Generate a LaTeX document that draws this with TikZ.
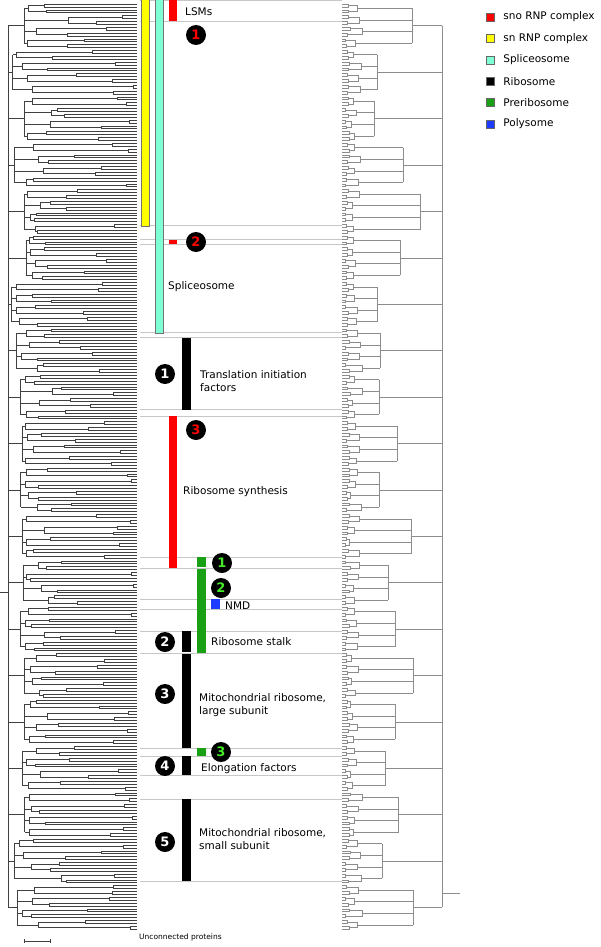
\documentclass[tikz,border=0pt]{standalone}
\usepackage{fontspec}
\setmainfont{DejaVu Sans}
\usepackage{tikz}
\usetikzlibrary{positioning}
\definecolor{snored}{RGB}{255,0,0}
\definecolor{snyellow}{RGB}{255,255,0}
\definecolor{spliceo}{RGB}{127,255,212}
\definecolor{pregreen}{RGB}{25,160,20}
\definecolor{polyblue}{RGB}{30,60,255}
\definecolor{digitgreen}{RGB}{70,235,40}

\begin{document}
\begin{tikzpicture}[
  x=1pt, y=-1pt,
  every node/.style={font=\fontsize{10.5}{12.5}\selectfont},
  ltree/.style={draw=black!75, line width=0.5pt},
  rtree/.style={draw=black!45, line width=0.5pt},
  sep/.style={draw=black!22, line width=0.6pt},
  bar/.style={draw=black!55, line width=0.4pt},
  tag/.style={anchor=west, align=left, inner sep=0pt},
  num/.style={circle, fill=black, minimum size=20pt, inner sep=0pt,
    font=\fontsize{13}{13}\selectfont\bfseries},
  key/.style={draw=black!60, minimum size=8pt, inner sep=0pt},
]
\useasboundingbox (0,0) rectangle (600,947);
\pgfmathsetseed{7}

% left dendrogram
\foreach \g in {0,...,19}{
  \pgfmathsetmacro\xg{10+16*rnd}
  \foreach \q in {0,...,3}{
    \pgfmathsetmacro\ya{4+46.4*\g+11.6*\q}
    \pgfmathsetmacro\yb{\ya+2.9}
    \pgfmathsetmacro\yc{\ya+5.8}
    \pgfmathsetmacro\yd{\ya+8.7}
    \pgfmathsetmacro\xa{30+105*rnd}
    \pgfmathsetmacro\xb{30+105*rnd}
    \pgfmathsetmacro\xq{\xg+3+(min(\xa,\xb)-\xg-3)*rnd*rnd}
    \draw[ltree] (137,\ya) -| (\xa,\yb) -- (137,\yb)
      (137,\yc) -| (\xb,\yd) -- (137,\yd)
      (\xa,{\ya+1.45}) -| (\xq,{\yc+1.45}) -- (\xb,{\yc+1.45})
      (\xq,{\ya+4.35}) -- (\xg,{\ya+4.35});
  }
  \draw[ltree] (\xg,{4+46.4*\g+4.35}) -- (\xg,{4+46.4*\g+39.15})
    (8,{4+46.4*\g+21.75}) -- (\xg,{4+46.4*\g+21.75});
}
\draw[ltree] (8,25.75) -- (8,907.35) (0,592) -- (8,592);
\draw[ltree] (24,941) -- (50,941) (24,939) -- (24,943) (50,939) -- (50,943);

% right dendrogram
\foreach \g in {0,...,19}{
  \pgfmathsetmacro\xg{372+50*rnd}
  \foreach \q in {0,...,3}{
    \pgfmathsetmacro\ya{4+46.4*\g+11.6*\q}
    \pgfmathsetmacro\yb{\ya+2.9}
    \pgfmathsetmacro\yc{\ya+5.8}
    \pgfmathsetmacro\yd{\ya+8.7}
    \pgfmathsetmacro\xa{345+5*rnd}
    \pgfmathsetmacro\xb{345+5*rnd}
    \pgfmathsetmacro\xq{max(\xa,\xb)+3+10*rnd}
    \draw[rtree] (342,\ya) -| (\xa,\yb) -- (342,\yb)
      (342,\yc) -| (\xb,\yd) -- (342,\yd)
      (\xa,{\ya+1.45}) -| (\xq,{\yc+1.45}) -- (\xb,{\yc+1.45})
      (\xq,{\ya+4.35}) -- (\xg,{\ya+4.35});
  }
  \draw[rtree] (\xg,{4+46.4*\g+4.35}) -- (\xg,{4+46.4*\g+39.15})
    (442,{4+46.4*\g+21.75}) -- (\xg,{4+46.4*\g+21.75});
}
\draw[rtree] (442,25.75) -- (442,907.35) (442,893) -- (460,893);

% separators
\foreach \y in {0.5,21,225,239,244,332,337,409,416,557,568,599,609,631,653,748,756,775,799,881}
  \draw[sep] (140,\y) -- (342,\y);

% bars
\filldraw[bar, fill=snyellow] (141,-1) rectangle (149,226);
\filldraw[bar, fill=spliceo] (155,-1) rectangle (163,333);
\fill[snored] (169,-1) rectangle (177,21);
\fill[snored] (169,240) rectangle (177,244);
\fill[snored] (169,416) rectangle (177,568);
\fill[black] (182,338) rectangle (191,410);
\fill[black] (182,631) rectangle (191,652);
\fill[black] (182,654) rectangle (191,748);
\fill[black] (182,756) rectangle (191,775);
\fill[black] (182,799) rectangle (191,881);
\fill[pregreen] (197,557) rectangle (206,567);
\fill[pregreen] (197,569) rectangle (206,653);
\fill[pregreen] (197,748) rectangle (206,756);
\fill[polyblue] (211,599) rectangle (220,609);

% labels
\node[tag] (lsm) at (185,12) {LSMs};
\node[tag] (spl) at (168,287) {Spliceosome};
\node[tag] (tif) at (200,381) {Translation initiation\\factors};
\node[tag] (rsy) at (183,492) {Ribosome synthesis};
\node[tag] (nmd) at (225,606) {NMD};
\node[tag] (stk) at (211,642) {Ribosome stalk};
\node[tag] (mlg) at (199,705) {Mitochondrial ribosome,\\large subunit};
\node[tag] (elf) at (201,769) {Elongation factors};
\node[tag] (msm) at (199,839) {Mitochondrial ribosome,\\small subunit};
\node[tag, font=\fontsize{7.5}{9}\selectfont] (unc) at (139,937) {Unconnected proteins};

% numbered circles
\node[num, text=snored] (sno1) at (196,35) {1};
\node[num, text=snored] (sno2) at (196,242) {2};
\node[num, text=snored] (sno3) at (196,430) {3};
\node[num, text=white] (rib1) at (165,374) {1};
\node[num, text=white] (rib2) at (165,642) {2};
\node[num, text=white] (rib3) at (165,694) {3};
\node[num, text=white] (rib4) at (165,766) {4};
\node[num, text=white] (rib5) at (165,842) {5};
\node[num, text=digitgreen] (pre1) at (222,563) {1};
\node[num, text=digitgreen] (pre2) at (221,588) {2};
\node[num, text=digitgreen] (pre3) at (221,752) {3};

% legend
\foreach \c/\t [count=\i] in {snored/sno RNP complex, snyellow/sn RNP complex,
    spliceo/Spliceosome, black/Ribosome, pregreen/Preribosome, polyblue/Polysome}{
  \node[key, fill=\c] (key\i) at (490.5,{17+21.4*(\i-1)}) {};
  \node[tag, right=8.5pt of key\i] (lab\i) {\t};
}
\end{tikzpicture}
\end{document}
